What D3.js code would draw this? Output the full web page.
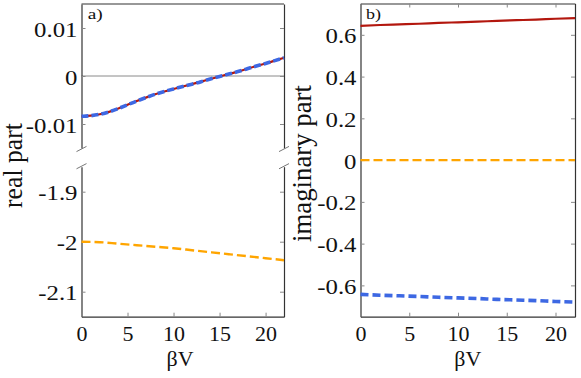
<!DOCTYPE html>
<html><head><meta charset="utf-8">
<script src="https://cdn.jsdelivr.net/npm/d3@7"></script>
<style>
body{margin:0;background:#fff;}
svg{display:block;}
text{font-family:"Liberation Serif","Times New Roman",Times,serif;fill:#111;}
</style></head><body>
<svg id="c" width="581" height="378"></svg>
<script>
// ---- data ----
const bvFine = [0,1,2,3,4,5,6,7,8,9,10,11,12,13,14,15,16,17,18,19,20,21,22];
const realSmall = [-0.0084,-0.0083,-0.0080,-0.0075,-0.0068,-0.0060,-0.0052,-0.0045,-0.0038,-0.0032,-0.0027,-0.0022,-0.0017,-0.0012,-0.0006,-0.0001,0.0004,0.0009,0.0015,0.0021,0.0026,0.0032,0.0038];
const bv = [0,2,4,6,8,10,12,14,16,18,20,22];
const realOrange = [-2.000,-2.001,-2.004,-2.007,-2.010,-2.013,-2.017,-2.021,-2.025,-2.029,-2.033,-2.037];
const imagRed = [0.643,0.647,0.650,0.653,0.657,0.660,0.663,0.667,0.670,0.673,0.677,0.680];
const imagBlue = [-0.643,-0.647,-0.650,-0.653,-0.657,-0.660,-0.663,-0.667,-0.670,-0.673,-0.677,-0.680];
const imagOrange = [0,0,0,0,0,0,0,0,0,0,0,0];
const xTicks = [0,5,10,15,20];
const yTicksTop = [-0.01,0,0.01];
const yTickLabelsTop = ["-0.01","0","0.01"];
const yTicksBot = [-2.1,-2,-1.9];
const yTickLabelsBot = ["-2.1","-2","-1.9"];
const yTicksImag = [-0.6,-0.4,-0.2,0,0.2,0.4,0.6];
const yTickLabelsImag = ["-0.6","-0.4","-0.2","0","0.2","0.4","0.6"];

const RED="#b3170e", BLUE="#3d68e3", ORANGE="#ffa500";
const FONT = "'Liberation Serif','Times New Roman',Times,serif";
const svg = d3.select("#c");
const FS = 20;

// ---- scales ----
const xL = d3.scaleLinear().domain([0,22]).range([81.5,284]);
const yTop = d3.scaleLinear().domain([-0.015,0.015]).range([148,4]);
const yBot = d3.scaleLinear().domain([-2.15,-1.85]).range([316.7,166.7]);
const xR = d3.scaleLinear().domain([0,22]).range([360.5,575]);
const yR = d3.scaleLinear().domain([-0.75,0.75]).range([316.7,3.5]);

// target width (Times-like metrics) for numeric labels
function numWidth(s){ let w=0; for(const c of s){ w += c==="." ? 0.25 : c==="-" ? 0.333 : 0.5; } return w; }
function styleAxis(g, stretch, dy){
  g.attr("font-family",FONT).attr("font-size",FS);
  g.select(".domain").attr("stroke","#333").attr("stroke-width",1.2);
  g.selectAll(".tick line").attr("stroke","#888").attr("stroke-width",1);
  g.selectAll(".tick text").attr("fill","#111").each(function(){
    const s = this.textContent;
    if (s && stretch) d3.select(this).attr("textLength", numWidth(s)*FS*stretch).attr("lengthAdjust","spacingAndGlyphs");
    if (dy) d3.select(this).attr("dy", dy);
  });
}
function fmt(vals,labels){ return (d)=>{const i=vals.findIndex(v=>Math.abs(v-d)<1e-9); return i>=0?labels[i]:"";}; }
function label(x,y,txt,size,len,rot,sy){
  const t = svg.append("text").attr("font-family",FONT).attr("font-size",size).attr("fill","#111").text(txt);
  if(rot){ t.attr("transform",`translate(${x},${y}) rotate(-90) scale(1,${sy||1})`).attr("text-anchor","middle").attr("x",0).attr("y",0); }
  else { t.attr("x",x).attr("y",y); }
  if(len) t.attr("textLength",len).attr("lengthAdjust","spacingAndGlyphs");
  return t;
}
const YST = 1.24, XST = 1.1, YDY = "0.4em";

// ---- left panel, top ----
svg.append("line").attr("x1",xL(0)).attr("x2",xL(22)).attr("y1",yTop(0)).attr("y2",yTop(0))
  .attr("stroke","#8a8a8a").attr("stroke-width",1);
svg.append("g").attr("transform",`translate(${xL(0)},0)`)
  .call(d3.axisLeft(yTop).tickValues(yTicksTop).tickSize(-4).tickSizeOuter(0).tickPadding(4).tickFormat(fmt(yTicksTop,yTickLabelsTop)))
  .call(g=>styleAxis(g,YST,YDY));
svg.append("g").attr("transform",`translate(${xL(22)},0)`)
  .call(d3.axisRight(yTop).tickValues(yTicksTop).tickSize(-4).tickSizeOuter(0).tickFormat(""))
  .call(g=>styleAxis(g));
svg.append("line").attr("x1",xL(0)).attr("x2",xL(22)).attr("y1",yTop.range()[1]).attr("y2",yTop.range()[1])
  .attr("stroke","#333").attr("stroke-width",1.2);

const lineTop = d3.line().x((d,i)=>xL(bvFine[i])).y(d=>yTop(d)).curve(d3.curveBasis);
svg.append("path").datum(realSmall).attr("d",lineTop).attr("fill","none").attr("stroke",RED).attr("stroke-width",2.2);
svg.append("path").datum(realSmall).attr("d",lineTop).attr("fill","none").attr("stroke",BLUE).attr("stroke-width",3.6).attr("stroke-dasharray","7,3");

// ---- left panel, bottom ----
svg.append("g").attr("transform",`translate(${xL(0)},0)`)
  .call(d3.axisLeft(yBot).tickValues(yTicksBot).tickSize(-4).tickSizeOuter(0).tickPadding(4).tickFormat(fmt(yTicksBot,yTickLabelsBot)))
  .call(g=>styleAxis(g,YST,YDY));
svg.append("g").attr("transform",`translate(${xL(22)},0)`)
  .call(d3.axisRight(yBot).tickValues(yTicksBot).tickSize(-4).tickSizeOuter(0).tickFormat(""))
  .call(g=>styleAxis(g));
svg.append("g").attr("transform",`translate(0,${yBot.range()[0]})`)
  .call(d3.axisBottom(xL).tickValues(xTicks).tickSize(-4).tickSizeOuter(0).tickPadding(10))
  .call(g=>styleAxis(g,XST));
const lineBot = d3.line().x((d,i)=>xL(bv[i])).y(d=>yBot(d)).curve(d3.curveMonotoneX);
svg.append("path").datum(realOrange).attr("d",lineBot).attr("fill","none").attr("stroke",ORANGE).attr("stroke-width",2.4).attr("stroke-dasharray","9,4");

// break marks
function brk(x,y){
  svg.append("line").attr("x1",x-5).attr("y1",y+2.6).attr("x2",x+5).attr("y2",y-2.6)
    .attr("stroke","#777").attr("stroke-width",1);
}
[xL(0),xL(22)].forEach(x=>{ brk(x,yTop.range()[0]+1); brk(x,yBot.range()[1]-0.5); });

label(87.7,18.5,"a)",15,15);
label(22,165.5,"real part",24,85,true,1.1);
label(180,366,"βV",20,27).attr("text-anchor","middle");

// ---- right panel ----
svg.append("g").attr("transform",`translate(${xR(0)},0)`)
  .call(d3.axisLeft(yR).tickValues(yTicksImag).tickSize(-4).tickSizeOuter(0).tickPadding(4).tickFormat(fmt(yTicksImag,yTickLabelsImag)))
  .call(g=>styleAxis(g,YST,YDY));
svg.append("g").attr("transform",`translate(${xR(22)},0)`)
  .call(d3.axisRight(yR).tickValues(yTicksImag).tickSize(-4).tickSizeOuter(0).tickFormat(""))
  .call(g=>styleAxis(g));
svg.append("g").attr("transform",`translate(0,${yR.range()[0]})`)
  .call(d3.axisBottom(xR).tickValues(xTicks).tickSize(-4).tickSizeOuter(0).tickPadding(10))
  .call(g=>styleAxis(g,XST));
svg.append("g").attr("transform",`translate(0,${yR.range()[1]})`)
  .call(d3.axisTop(xR).tickValues(xTicks).tickSize(-4).tickSizeOuter(0).tickFormat(""))
  .call(g=>styleAxis(g));
const lineR = d3.line().x((d,i)=>xR(bv[i])).y(d=>yR(d)).curve(d3.curveMonotoneX);
svg.append("path").datum(imagRed).attr("d",lineR).attr("fill","none").attr("stroke",RED).attr("stroke-width",2.2);
svg.append("path").datum(imagOrange).attr("d",lineR).attr("fill","none").attr("stroke",ORANGE).attr("stroke-width",2.4).attr("stroke-dasharray","9,4");
svg.append("path").datum(imagBlue).attr("d",lineR).attr("fill","none").attr("stroke",BLUE).attr("stroke-width",3.6).attr("stroke-dasharray","8,4");

label(366,18.5,"b)",15,15);
label(311,163.5,"imaginary part",24,157,true,1.1);
label((xR(0)+xR(22))/2,366,"βV",20,27).attr("text-anchor","middle");
</script></body></html>
